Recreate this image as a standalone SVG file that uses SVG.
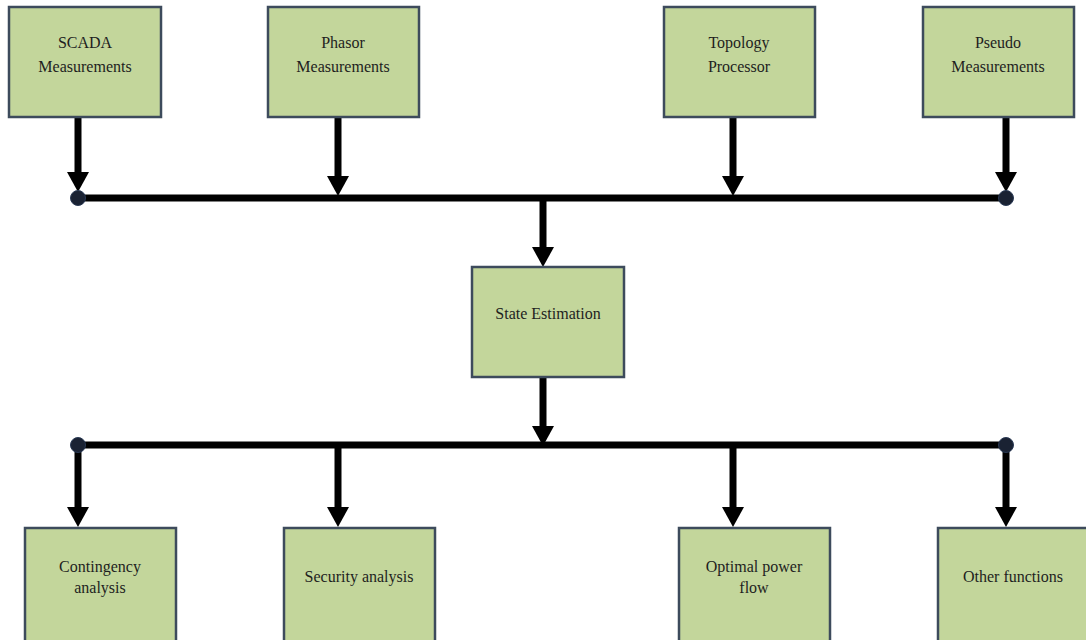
<svg xmlns="http://www.w3.org/2000/svg" width="1086" height="640" viewBox="0 0 1086 640">
<style>
.box{fill:#c3d69b;stroke:#3d4b5c;stroke-width:2.5}
.t{font-family:"Liberation Serif","Times New Roman",serif;font-size:16px;fill:#1e1e1e;text-anchor:middle}
.ln{stroke:#000;stroke-width:7;fill:none}
.ah{fill:#000}
.dot{fill:#1a2233;stroke:#2a3a55;stroke-width:1}
</style>
<rect width="1086" height="640" fill="#fff"/>
<g id="connectors">
<line class="ln" x1="78" y1="198" x2="1006" y2="198"/>
<line class="ln" x1="78" y1="445" x2="1006" y2="445"/>
<line class="ln" x1="78" y1="117" x2="78" y2="175"/>
<polygon class="ah" points="67,172 89,172 78,192"/>
<line class="ln" x1="338" y1="117" x2="338" y2="177"/>
<polygon class="ah" points="327,176 349,176 338,196"/>
<line class="ln" x1="733" y1="117" x2="733" y2="177"/>
<polygon class="ah" points="722,176 744,176 733,196"/>
<line class="ln" x1="1006" y1="117" x2="1006" y2="175"/>
<polygon class="ah" points="995,172 1017,172 1006,192"/>
<line class="ln" x1="543" y1="197" x2="543" y2="248"/>
<polygon class="ah" points="532,247 554,247 543,267"/>
<line class="ln" x1="543" y1="377" x2="543" y2="428"/>
<polygon class="ah" points="532,426 554,426 543,446"/>
<line class="ln" x1="78" y1="445" x2="78" y2="508"/>
<polygon class="ah" points="67,507 89,507 78,527"/>
<line class="ln" x1="338" y1="445" x2="338" y2="508"/>
<polygon class="ah" points="327,507 349,507 338,527"/>
<line class="ln" x1="733" y1="445" x2="733" y2="508"/>
<polygon class="ah" points="722,507 744,507 733,527"/>
<line class="ln" x1="1006" y1="445" x2="1006" y2="508"/>
<polygon class="ah" points="995,507 1017,507 1006,527"/>
<circle class="dot" cx="78" cy="198" r="7.5"/>
<circle class="dot" cx="1006" cy="198" r="7.5"/>
<circle class="dot" cx="78" cy="445" r="7.5"/>
<circle class="dot" cx="1006" cy="445" r="7.5"/>
</g>
<g id="scada">
<rect class="box" x="9" y="7" width="152" height="110"/>
<text class="t" x="85" y="48">SCADA</text>
<text class="t" x="85" y="72">Measurements</text>
</g>
<g id="phasor">
<rect class="box" x="268" y="7" width="151" height="110"/>
<text class="t" x="343" y="48">Phasor</text>
<text class="t" x="343" y="72">Measurements</text>
</g>
<g id="topology">
<rect class="box" x="664" y="7" width="151" height="110"/>
<text class="t" x="739" y="48">Topology</text>
<text class="t" x="739" y="72">Processor</text>
</g>
<g id="pseudo">
<rect class="box" x="923" y="7" width="151" height="110"/>
<text class="t" x="998" y="48">Pseudo</text>
<text class="t" x="998" y="72">Measurements</text>
</g>
<g id="state">
<rect class="box" x="472" y="267" width="152" height="110"/>
<text class="t" x="548" y="319">State Estimation</text>
</g>
<g id="contingency">
<rect class="box" x="25" y="528" width="151" height="120"/>
<text class="t" x="100" y="572">Contingency</text>
<text class="t" x="100" y="593">analysis</text>
</g>
<g id="security">
<rect class="box" x="284" y="528" width="151" height="120"/>
<text class="t" x="359" y="582">Security analysis</text>
</g>
<g id="opf">
<rect class="box" x="679" y="528" width="151" height="120"/>
<text class="t" x="754" y="572">Optimal power</text>
<text class="t" x="754" y="593">flow</text>
</g>
<g id="other">
<rect class="box" x="938" y="528" width="160" height="120"/>
<text class="t" x="1013" y="582">Other functions</text>
</g>
</svg>
